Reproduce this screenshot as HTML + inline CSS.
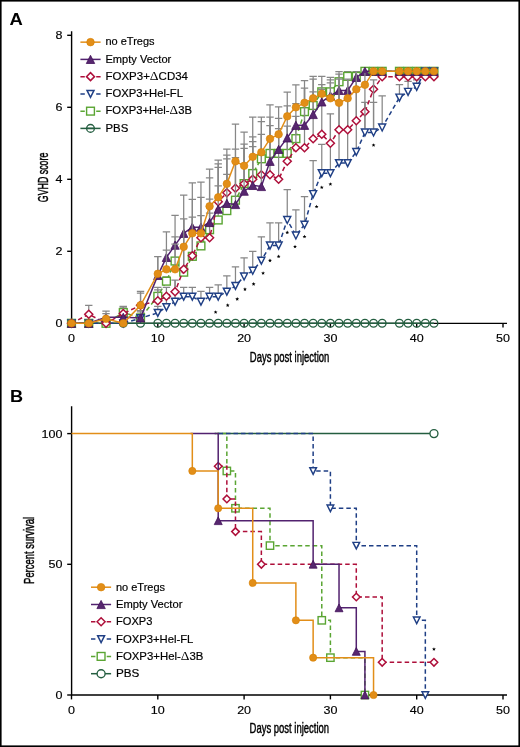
<!DOCTYPE html>
<html><head><meta charset="utf-8"><style>
html,body{margin:0;padding:0;background:#fff;}
svg{display:block;will-change:transform;}
</style></head><body>
<svg width="520" height="747" viewBox="0 0 520 747">
<rect x="0" y="0" width="520" height="747" fill="#fff"/>
<rect x="0.8" y="0.8" width="518.4" height="745.4" fill="none" stroke="#000" stroke-width="1.6"/>
<text transform="translate(16.15 24.7) scale(1.12 1)" text-anchor="middle" font-family="Liberation Sans, sans-serif" font-weight="bold" font-size="16.5" fill="#000">A</text>
<text transform="translate(16.6 401.8) scale(1.1 1)" text-anchor="middle" font-family="Liberation Sans, sans-serif" font-weight="bold" font-size="16.5" fill="#000">B</text>
<g stroke="#000" stroke-width="1.4" fill="none">
<path d="M71.6 31.2V323.4M71.6 323.4H507"/>
<path d="M67.2 323.3H71.6"/>
<path d="M67.2 251.3H71.6"/>
<path d="M67.2 179.3H71.6"/>
<path d="M67.2 107.3H71.6"/>
<path d="M67.2 35.3H71.6"/>
<path d="M71.5 323.4V327.6"/>
<path d="M157.8 323.4V327.6"/>
<path d="M244.1 323.4V327.6"/>
<path d="M330.4 323.4V327.6"/>
<path d="M416.7 323.4V327.6"/>
<path d="M503 323.4V327.6"/>
</g>
<g font-family="Liberation Sans, sans-serif" font-size="11" fill="#000" stroke="#000" stroke-width="0.15" text-anchor="end">
<text transform="translate(62.5 327.2) scale(1.14 1)">0</text>
<text transform="translate(62.5 255.2) scale(1.14 1)">2</text>
<text transform="translate(62.5 183.2) scale(1.14 1)">4</text>
<text transform="translate(62.5 111.2) scale(1.14 1)">6</text>
<text transform="translate(62.5 39.2) scale(1.14 1)">8</text>
</g>
<g font-family="Liberation Sans, sans-serif" font-size="11" fill="#000" stroke="#000" stroke-width="0.15" text-anchor="middle">
<text transform="translate(71.5 342) scale(1.14 1)">0</text>
<text transform="translate(157.8 342) scale(1.14 1)">10</text>
<text transform="translate(244.1 342) scale(1.14 1)">20</text>
<text transform="translate(330.4 342) scale(1.14 1)">30</text>
<text transform="translate(416.7 342) scale(1.14 1)">40</text>
<text transform="translate(503 342) scale(1.14 1)">50</text>
</g>
<text x="249.8" y="361.8" font-family="Liberation Sans, sans-serif" font-size="14.4" textLength="79.5" lengthAdjust="spacingAndGlyphs" fill="#000" stroke="#000" stroke-width="0.45">Days post injection</text>
<text transform="translate(48.3 202.2) rotate(-90)" x="0" y="0" font-family="Liberation Sans, sans-serif" font-size="14.8" textLength="49.5" lengthAdjust="spacingAndGlyphs" fill="#000" stroke="#000" stroke-width="0.45">GVHD score</text>
<polyline points="71.5,323.3 88.76,323.3 106.02,323.3 123.28,323.3 140.54,323.3 157.8,323.3 166.43,323.3 175.06,323.3 183.69,323.3 192.32,323.3 200.95,323.3 209.58,323.3 218.21,323.3 226.84,323.3 235.47,323.3 244.1,323.3 252.73,323.3 261.36,323.3 269.99,323.3 278.62,323.3 287.25,323.3 295.88,323.3 304.51,323.3 313.14,323.3 321.77,323.3 330.4,323.3 339.03,323.3 347.66,323.3 356.29,323.3 364.92,323.3 373.55,323.3 382.18,323.3 399.44,323.3 408.07,323.3 416.7,323.3 425.33,323.3 433.96,323.3" fill="none" stroke="#245E40" stroke-width="1.5"/>
<circle cx="71.5" cy="323.3" r="3.85" fill="none" stroke="#245E40" stroke-width="1.35"/>
<circle cx="88.76" cy="323.3" r="3.85" fill="none" stroke="#245E40" stroke-width="1.35"/>
<circle cx="106.02" cy="323.3" r="3.85" fill="none" stroke="#245E40" stroke-width="1.35"/>
<circle cx="123.28" cy="323.3" r="3.85" fill="none" stroke="#245E40" stroke-width="1.35"/>
<circle cx="140.54" cy="323.3" r="3.85" fill="none" stroke="#245E40" stroke-width="1.35"/>
<circle cx="157.8" cy="323.3" r="3.85" fill="none" stroke="#245E40" stroke-width="1.35"/>
<circle cx="166.43" cy="323.3" r="3.85" fill="none" stroke="#245E40" stroke-width="1.35"/>
<circle cx="175.06" cy="323.3" r="3.85" fill="none" stroke="#245E40" stroke-width="1.35"/>
<circle cx="183.69" cy="323.3" r="3.85" fill="none" stroke="#245E40" stroke-width="1.35"/>
<circle cx="192.32" cy="323.3" r="3.85" fill="none" stroke="#245E40" stroke-width="1.35"/>
<circle cx="200.95" cy="323.3" r="3.85" fill="none" stroke="#245E40" stroke-width="1.35"/>
<circle cx="209.58" cy="323.3" r="3.85" fill="none" stroke="#245E40" stroke-width="1.35"/>
<circle cx="218.21" cy="323.3" r="3.85" fill="none" stroke="#245E40" stroke-width="1.35"/>
<circle cx="226.84" cy="323.3" r="3.85" fill="none" stroke="#245E40" stroke-width="1.35"/>
<circle cx="235.47" cy="323.3" r="3.85" fill="none" stroke="#245E40" stroke-width="1.35"/>
<circle cx="244.1" cy="323.3" r="3.85" fill="none" stroke="#245E40" stroke-width="1.35"/>
<circle cx="252.73" cy="323.3" r="3.85" fill="none" stroke="#245E40" stroke-width="1.35"/>
<circle cx="261.36" cy="323.3" r="3.85" fill="none" stroke="#245E40" stroke-width="1.35"/>
<circle cx="269.99" cy="323.3" r="3.85" fill="none" stroke="#245E40" stroke-width="1.35"/>
<circle cx="278.62" cy="323.3" r="3.85" fill="none" stroke="#245E40" stroke-width="1.35"/>
<circle cx="287.25" cy="323.3" r="3.85" fill="none" stroke="#245E40" stroke-width="1.35"/>
<circle cx="295.88" cy="323.3" r="3.85" fill="none" stroke="#245E40" stroke-width="1.35"/>
<circle cx="304.51" cy="323.3" r="3.85" fill="none" stroke="#245E40" stroke-width="1.35"/>
<circle cx="313.14" cy="323.3" r="3.85" fill="none" stroke="#245E40" stroke-width="1.35"/>
<circle cx="321.77" cy="323.3" r="3.85" fill="none" stroke="#245E40" stroke-width="1.35"/>
<circle cx="330.4" cy="323.3" r="3.85" fill="none" stroke="#245E40" stroke-width="1.35"/>
<circle cx="339.03" cy="323.3" r="3.85" fill="none" stroke="#245E40" stroke-width="1.35"/>
<circle cx="347.66" cy="323.3" r="3.85" fill="none" stroke="#245E40" stroke-width="1.35"/>
<circle cx="356.29" cy="323.3" r="3.85" fill="none" stroke="#245E40" stroke-width="1.35"/>
<circle cx="364.92" cy="323.3" r="3.85" fill="none" stroke="#245E40" stroke-width="1.35"/>
<circle cx="373.55" cy="323.3" r="3.85" fill="none" stroke="#245E40" stroke-width="1.35"/>
<circle cx="382.18" cy="323.3" r="3.85" fill="none" stroke="#245E40" stroke-width="1.35"/>
<circle cx="399.44" cy="323.3" r="3.85" fill="none" stroke="#245E40" stroke-width="1.35"/>
<circle cx="408.07" cy="323.3" r="3.85" fill="none" stroke="#245E40" stroke-width="1.35"/>
<circle cx="416.7" cy="323.3" r="3.85" fill="none" stroke="#245E40" stroke-width="1.35"/>
<circle cx="425.33" cy="323.3" r="3.85" fill="none" stroke="#245E40" stroke-width="1.35"/>
<circle cx="433.96" cy="323.3" r="3.85" fill="none" stroke="#245E40" stroke-width="1.35"/>
<g stroke="#878787" stroke-width="1.25" fill="none">
<path d="M123.28 312.5V306.38 M119.58 306.38H126.98"/>
<path d="M140.54 317.9V311.78 M136.84 311.78H144.24"/>
<path d="M157.8 296.3V287.3 M154.1 287.3H161.5"/>
<path d="M166.43 281.18V276.86 M162.73 276.86H170.13"/>
<path d="M175.06 261.02V236.9 M171.36 236.9H178.76"/>
<path d="M183.69 272.18V218.9"/>
<path d="M192.32 256.34V217.1"/>
<path d="M200.95 245.9V215.66"/>
<path d="M209.58 229.7V199.1 M205.88 199.1H213.28"/>
<path d="M218.21 219.98V185.78 M214.51 185.78H221.91"/>
<path d="M226.84 210.62V174.26 M223.14 174.26H230.54"/>
<path d="M235.47 200.18V157.7 M231.77 157.7H239.17"/>
<path d="M244.1 183.62V144.02 M240.4 144.02H247.8"/>
<path d="M252.73 173.54V136.82 M249.03 136.82H256.43"/>
<path d="M261.36 158.78V121.7 M257.66 121.7H265.06"/>
<path d="M269.99 153.38V117.02 M266.29 117.02H273.69"/>
<path d="M278.62 153.38V128.54 M274.92 128.54H282.32"/>
<path d="M287.25 153.38V126.02 M283.55 126.02H290.95"/>
<path d="M295.88 138.62V116.3 M292.18 116.3H299.58"/>
<path d="M304.51 111.62V88.22 M300.81 88.22H308.21"/>
<path d="M313.14 105.5V79.22 M309.44 79.22H316.84"/>
<path d="M321.77 91.82V76.34 M318.07 76.34H325.47"/>
<path d="M330.4 91.82V77.42 M326.7 77.42H334.1"/>
<path d="M339.03 81.74V71.66 M335.33 71.66H342.73"/>
<path d="M347.66 76.34V71.66 M343.96 71.66H351.36"/>
<path d="M356.29 76.34V71.66 M352.59 71.66H359.99"/>
</g>
<polyline points="71.5,323.3 88.76,323.3 106.02,323.3 123.28,312.5 140.54,317.9 157.8,296.3 166.43,281.18 175.06,261.02 183.69,272.18 192.32,256.34 200.95,245.9 209.58,229.7 218.21,219.98 226.84,210.62 235.47,200.18 244.1,183.62 252.73,173.54 261.36,158.78 269.99,153.38 278.62,153.38 287.25,153.38 295.88,138.62 304.51,111.62 313.14,105.5 321.77,91.82 330.4,91.82 339.03,81.74 347.66,76.34 356.29,76.34 364.92,71.3 373.55,71.3 382.18,71.3 399.44,71.3 408.07,71.3 416.7,71.3 425.33,71.3 433.96,71.3" fill="none" stroke="#5AA533" stroke-width="1.5" stroke-dasharray="4.5,3"/>
<rect x="67.6" y="319.4" width="7.8" height="7.8" fill="#fff" stroke="#5AA533" stroke-width="1.4"/>
<rect x="84.86" y="319.4" width="7.8" height="7.8" fill="#fff" stroke="#5AA533" stroke-width="1.4"/>
<rect x="102.12" y="319.4" width="7.8" height="7.8" fill="#fff" stroke="#5AA533" stroke-width="1.4"/>
<rect x="119.38" y="308.6" width="7.8" height="7.8" fill="#fff" stroke="#5AA533" stroke-width="1.4"/>
<rect x="136.64" y="314" width="7.8" height="7.8" fill="#fff" stroke="#5AA533" stroke-width="1.4"/>
<rect x="153.9" y="292.4" width="7.8" height="7.8" fill="#fff" stroke="#5AA533" stroke-width="1.4"/>
<rect x="162.53" y="277.28" width="7.8" height="7.8" fill="#fff" stroke="#5AA533" stroke-width="1.4"/>
<rect x="171.16" y="257.12" width="7.8" height="7.8" fill="#fff" stroke="#5AA533" stroke-width="1.4"/>
<rect x="179.79" y="268.28" width="7.8" height="7.8" fill="#fff" stroke="#5AA533" stroke-width="1.4"/>
<rect x="188.42" y="252.44" width="7.8" height="7.8" fill="#fff" stroke="#5AA533" stroke-width="1.4"/>
<rect x="197.05" y="242" width="7.8" height="7.8" fill="#fff" stroke="#5AA533" stroke-width="1.4"/>
<rect x="205.68" y="225.8" width="7.8" height="7.8" fill="#fff" stroke="#5AA533" stroke-width="1.4"/>
<rect x="214.31" y="216.08" width="7.8" height="7.8" fill="#fff" stroke="#5AA533" stroke-width="1.4"/>
<rect x="222.94" y="206.72" width="7.8" height="7.8" fill="#fff" stroke="#5AA533" stroke-width="1.4"/>
<rect x="231.57" y="196.28" width="7.8" height="7.8" fill="#fff" stroke="#5AA533" stroke-width="1.4"/>
<rect x="240.2" y="179.72" width="7.8" height="7.8" fill="#fff" stroke="#5AA533" stroke-width="1.4"/>
<rect x="248.83" y="169.64" width="7.8" height="7.8" fill="#fff" stroke="#5AA533" stroke-width="1.4"/>
<rect x="257.46" y="154.88" width="7.8" height="7.8" fill="#fff" stroke="#5AA533" stroke-width="1.4"/>
<rect x="266.09" y="149.48" width="7.8" height="7.8" fill="#fff" stroke="#5AA533" stroke-width="1.4"/>
<rect x="274.72" y="149.48" width="7.8" height="7.8" fill="#fff" stroke="#5AA533" stroke-width="1.4"/>
<rect x="283.35" y="149.48" width="7.8" height="7.8" fill="#fff" stroke="#5AA533" stroke-width="1.4"/>
<rect x="291.98" y="134.72" width="7.8" height="7.8" fill="#fff" stroke="#5AA533" stroke-width="1.4"/>
<rect x="300.61" y="107.72" width="7.8" height="7.8" fill="#fff" stroke="#5AA533" stroke-width="1.4"/>
<rect x="309.24" y="101.6" width="7.8" height="7.8" fill="#fff" stroke="#5AA533" stroke-width="1.4"/>
<rect x="317.87" y="87.92" width="7.8" height="7.8" fill="#fff" stroke="#5AA533" stroke-width="1.4"/>
<rect x="326.5" y="87.92" width="7.8" height="7.8" fill="#fff" stroke="#5AA533" stroke-width="1.4"/>
<rect x="335.13" y="77.84" width="7.8" height="7.8" fill="#fff" stroke="#5AA533" stroke-width="1.4"/>
<rect x="343.76" y="72.44" width="7.8" height="7.8" fill="#fff" stroke="#5AA533" stroke-width="1.4"/>
<rect x="352.39" y="72.44" width="7.8" height="7.8" fill="#fff" stroke="#5AA533" stroke-width="1.4"/>
<rect x="361.02" y="67.4" width="7.8" height="7.8" fill="#fff" stroke="#5AA533" stroke-width="1.4"/>
<rect x="369.65" y="67.4" width="7.8" height="7.8" fill="#fff" stroke="#5AA533" stroke-width="1.4"/>
<rect x="378.28" y="67.4" width="7.8" height="7.8" fill="#fff" stroke="#5AA533" stroke-width="1.4"/>
<rect x="395.54" y="67.4" width="7.8" height="7.8" fill="#fff" stroke="#5AA533" stroke-width="1.4"/>
<rect x="404.17" y="67.4" width="7.8" height="7.8" fill="#fff" stroke="#5AA533" stroke-width="1.4"/>
<rect x="412.8" y="67.4" width="7.8" height="7.8" fill="#fff" stroke="#5AA533" stroke-width="1.4"/>
<rect x="421.43" y="67.4" width="7.8" height="7.8" fill="#fff" stroke="#5AA533" stroke-width="1.4"/>
<rect x="430.06" y="67.4" width="7.8" height="7.8" fill="#fff" stroke="#5AA533" stroke-width="1.4"/>
<g stroke="#878787" stroke-width="1.25" fill="none">
<path d="M157.8 312.86V306.38 M154.1 306.38H161.5"/>
<path d="M166.43 307.1V298.46 M162.73 298.46H170.13"/>
<path d="M175.06 301.7V280.1"/>
<path d="M183.69 296.66V287.3 M179.99 287.3H187.39"/>
<path d="M192.32 296.66V287.3 M188.62 287.3H196.02"/>
<path d="M200.95 301.7V291.26 M197.25 291.26H204.65"/>
<path d="M209.58 296.66V287.3 M205.88 287.3H213.28"/>
<path d="M218.21 296.66V284.78 M214.51 284.78H221.91"/>
<path d="M226.84 291.62V275.78 M223.14 275.78H230.54"/>
<path d="M235.47 285.86V266.78 M231.77 266.78H239.17"/>
<path d="M244.1 276.5V257.78 M240.4 257.78H247.8"/>
<path d="M252.73 270.74V251.3 M249.03 251.3H256.43"/>
<path d="M261.36 260.66V236.9 M257.66 236.9H265.06"/>
<path d="M269.99 245.54V222.86 M266.29 222.86H273.69"/>
<path d="M278.62 245.54V222.86 M274.92 222.86H282.32"/>
<path d="M287.25 219.98V189.74 M283.55 189.74H290.95"/>
<path d="M295.88 235.46V209.9 M292.18 209.9H299.58"/>
<path d="M304.51 224.66V196.58 M300.81 196.58H308.21"/>
<path d="M313.14 194.06V160.58 M309.44 160.58H316.84"/>
<path d="M321.77 173.18V144.38 M318.07 144.38H325.47"/>
<path d="M330.4 173.18V113.78"/>
<path d="M339.03 163.1V79.22"/>
<path d="M347.66 163.1V79.22"/>
<path d="M356.29 151.94V71.66"/>
<path d="M364.92 132.5V102.26 M361.22 102.26H368.62"/>
<path d="M373.55 132.5V102.26 M369.85 102.26H377.25"/>
<path d="M382.18 127.46V95.78 M378.48 95.78H385.88"/>
<path d="M399.44 97.58V84.62 M395.74 84.62H403.14"/>
<path d="M408.07 91.82V81.38 M404.37 81.38H411.77"/>
<path d="M416.7 86.78V79.94 M413 79.94H420.4"/>
</g>
<polyline points="71.5,323.3 88.76,323.3 106.02,323.3 123.28,323.3 140.54,318.15 157.8,312.86 166.43,307.1 175.06,301.7 183.69,296.66 192.32,296.66 200.95,301.7 209.58,296.66 218.21,296.66 226.84,291.62 235.47,285.86 244.1,276.5 252.73,270.74 261.36,260.66 269.99,245.54 278.62,245.54 287.25,219.98 295.88,235.46 304.51,224.66 313.14,194.06 321.77,173.18 330.4,173.18 339.03,163.1 347.66,163.1 356.29,151.94 364.92,132.5 373.55,132.5 382.18,127.46 399.44,97.58 408.07,91.82 416.7,86.78 425.33,71.3 433.96,71.3" fill="none" stroke="#1F3F85" stroke-width="1.5" stroke-dasharray="4.5,3"/>
<path d="M68 319.85L75 319.85L71.5 326.8Z" fill="#fff" stroke="#1F3F85" stroke-width="1.45" stroke-linejoin="miter"/>
<path d="M85.26 319.85L92.26 319.85L88.76 326.8Z" fill="#fff" stroke="#1F3F85" stroke-width="1.45" stroke-linejoin="miter"/>
<path d="M102.52 319.85L109.52 319.85L106.02 326.8Z" fill="#fff" stroke="#1F3F85" stroke-width="1.45" stroke-linejoin="miter"/>
<path d="M119.78 319.85L126.78 319.85L123.28 326.8Z" fill="#fff" stroke="#1F3F85" stroke-width="1.45" stroke-linejoin="miter"/>
<path d="M137.04 314.7L144.04 314.7L140.54 321.65Z" fill="#fff" stroke="#1F3F85" stroke-width="1.45" stroke-linejoin="miter"/>
<path d="M154.3 309.41L161.3 309.41L157.8 316.36Z" fill="#fff" stroke="#1F3F85" stroke-width="1.45" stroke-linejoin="miter"/>
<path d="M162.93 303.65L169.93 303.65L166.43 310.6Z" fill="#fff" stroke="#1F3F85" stroke-width="1.45" stroke-linejoin="miter"/>
<path d="M171.56 298.25L178.56 298.25L175.06 305.2Z" fill="#fff" stroke="#1F3F85" stroke-width="1.45" stroke-linejoin="miter"/>
<path d="M180.19 293.21L187.19 293.21L183.69 300.16Z" fill="#fff" stroke="#1F3F85" stroke-width="1.45" stroke-linejoin="miter"/>
<path d="M188.82 293.21L195.82 293.21L192.32 300.16Z" fill="#fff" stroke="#1F3F85" stroke-width="1.45" stroke-linejoin="miter"/>
<path d="M197.45 298.25L204.45 298.25L200.95 305.2Z" fill="#fff" stroke="#1F3F85" stroke-width="1.45" stroke-linejoin="miter"/>
<path d="M206.08 293.21L213.08 293.21L209.58 300.16Z" fill="#fff" stroke="#1F3F85" stroke-width="1.45" stroke-linejoin="miter"/>
<path d="M214.71 293.21L221.71 293.21L218.21 300.16Z" fill="#fff" stroke="#1F3F85" stroke-width="1.45" stroke-linejoin="miter"/>
<path d="M223.34 288.17L230.34 288.17L226.84 295.12Z" fill="#fff" stroke="#1F3F85" stroke-width="1.45" stroke-linejoin="miter"/>
<path d="M231.97 282.41L238.97 282.41L235.47 289.36Z" fill="#fff" stroke="#1F3F85" stroke-width="1.45" stroke-linejoin="miter"/>
<path d="M240.6 273.05L247.6 273.05L244.1 280Z" fill="#fff" stroke="#1F3F85" stroke-width="1.45" stroke-linejoin="miter"/>
<path d="M249.23 267.29L256.23 267.29L252.73 274.24Z" fill="#fff" stroke="#1F3F85" stroke-width="1.45" stroke-linejoin="miter"/>
<path d="M257.86 257.21L264.86 257.21L261.36 264.16Z" fill="#fff" stroke="#1F3F85" stroke-width="1.45" stroke-linejoin="miter"/>
<path d="M266.49 242.09L273.49 242.09L269.99 249.04Z" fill="#fff" stroke="#1F3F85" stroke-width="1.45" stroke-linejoin="miter"/>
<path d="M275.12 242.09L282.12 242.09L278.62 249.04Z" fill="#fff" stroke="#1F3F85" stroke-width="1.45" stroke-linejoin="miter"/>
<path d="M283.75 216.53L290.75 216.53L287.25 223.48Z" fill="#fff" stroke="#1F3F85" stroke-width="1.45" stroke-linejoin="miter"/>
<path d="M292.38 232.01L299.38 232.01L295.88 238.96Z" fill="#fff" stroke="#1F3F85" stroke-width="1.45" stroke-linejoin="miter"/>
<path d="M301.01 221.21L308.01 221.21L304.51 228.16Z" fill="#fff" stroke="#1F3F85" stroke-width="1.45" stroke-linejoin="miter"/>
<path d="M309.64 190.61L316.64 190.61L313.14 197.56Z" fill="#fff" stroke="#1F3F85" stroke-width="1.45" stroke-linejoin="miter"/>
<path d="M318.27 169.73L325.27 169.73L321.77 176.68Z" fill="#fff" stroke="#1F3F85" stroke-width="1.45" stroke-linejoin="miter"/>
<path d="M326.9 169.73L333.9 169.73L330.4 176.68Z" fill="#fff" stroke="#1F3F85" stroke-width="1.45" stroke-linejoin="miter"/>
<path d="M335.53 159.65L342.53 159.65L339.03 166.6Z" fill="#fff" stroke="#1F3F85" stroke-width="1.45" stroke-linejoin="miter"/>
<path d="M344.16 159.65L351.16 159.65L347.66 166.6Z" fill="#fff" stroke="#1F3F85" stroke-width="1.45" stroke-linejoin="miter"/>
<path d="M352.79 148.49L359.79 148.49L356.29 155.44Z" fill="#fff" stroke="#1F3F85" stroke-width="1.45" stroke-linejoin="miter"/>
<path d="M361.42 129.05L368.42 129.05L364.92 136Z" fill="#fff" stroke="#1F3F85" stroke-width="1.45" stroke-linejoin="miter"/>
<path d="M370.05 129.05L377.05 129.05L373.55 136Z" fill="#fff" stroke="#1F3F85" stroke-width="1.45" stroke-linejoin="miter"/>
<path d="M378.68 124.01L385.68 124.01L382.18 130.96Z" fill="#fff" stroke="#1F3F85" stroke-width="1.45" stroke-linejoin="miter"/>
<path d="M395.94 94.13L402.94 94.13L399.44 101.08Z" fill="#fff" stroke="#1F3F85" stroke-width="1.45" stroke-linejoin="miter"/>
<path d="M404.57 88.37L411.57 88.37L408.07 95.32Z" fill="#fff" stroke="#1F3F85" stroke-width="1.45" stroke-linejoin="miter"/>
<path d="M413.2 83.33L420.2 83.33L416.7 90.28Z" fill="#fff" stroke="#1F3F85" stroke-width="1.45" stroke-linejoin="miter"/>
<path d="M421.83 67.85L428.83 67.85L425.33 74.8Z" fill="#fff" stroke="#1F3F85" stroke-width="1.45" stroke-linejoin="miter"/>
<path d="M430.46 67.85L437.46 67.85L433.96 74.8Z" fill="#fff" stroke="#1F3F85" stroke-width="1.45" stroke-linejoin="miter"/>
<g stroke="#878787" stroke-width="1.25" fill="none">
<path d="M88.76 314.3V305.3 M85.06 305.3H92.46"/>
<path d="M123.28 313.58V307.1 M119.58 307.1H126.98"/>
<path d="M140.54 305.3V291.26 M136.84 291.26H144.24"/>
<path d="M157.8 300.8V289.82 M154.1 289.82H161.5"/>
<path d="M166.43 296.3V287.3 M162.73 287.3H170.13"/>
<path d="M175.06 291.8V280.1 M171.36 280.1H178.76"/>
<path d="M183.69 269.3V218.9"/>
<path d="M192.32 255.8V217.1 M188.62 217.1H196.02"/>
<path d="M200.95 237.8V215.66 M197.25 215.66H204.65"/>
<path d="M209.58 237.8V213.14 M205.88 213.14H213.28"/>
<path d="M218.21 201.8V163.82 M214.51 163.82H221.91"/>
<path d="M226.84 192.8V155.18 M223.14 155.18H230.54"/>
<path d="M235.47 188.3V149.06 M231.77 149.06H239.17"/>
<path d="M244.1 183.8V148.34 M240.4 148.34H247.8"/>
<path d="M252.73 179.3V141.5 M249.03 141.5H256.43"/>
<path d="M261.36 174.8V134.3 M257.66 134.3H265.06"/>
<path d="M269.99 174.8V125.66"/>
<path d="M278.62 179.3V128.54"/>
<path d="M287.25 161.3V126.02"/>
<path d="M295.88 147.8V116.3"/>
<path d="M304.51 147.8V88.22"/>
<path d="M313.14 138.8V91.82"/>
<path d="M321.77 134.3V89.3"/>
<path d="M330.4 143.3V113.78 M326.7 113.78H334.1"/>
<path d="M339.03 129.8V79.22"/>
<path d="M347.66 129.8V79.22"/>
<path d="M356.29 120.8V71.66"/>
<path d="M364.92 111.8V85.7"/>
<path d="M373.55 89.3V79.94 M369.85 79.94H377.25"/>
</g>
<polyline points="71.5,323.3 88.76,314.3 106.02,323.3 123.28,313.58 140.54,305.3 157.8,300.8 166.43,296.3 175.06,291.8 183.69,269.3 192.32,255.8 200.95,237.8 209.58,237.8 218.21,201.8 226.84,192.8 235.47,188.3 244.1,183.8 252.73,179.3 261.36,174.8 269.99,174.8 278.62,179.3 287.25,161.3 295.88,147.8 304.51,147.8 313.14,138.8 321.77,134.3 330.4,143.3 339.03,129.8 347.66,129.8 356.29,120.8 364.92,111.8 373.55,89.3 382.18,76.7 399.44,76.7 408.07,76.7 416.7,76.7 425.33,76.7 433.96,76.7" fill="none" stroke="#AE0F3A" stroke-width="1.5" stroke-dasharray="4.5,3"/>
<path d="M71.5 319.3L75.5 323.3L71.5 327.3L67.5 323.3Z" fill="#fff" stroke="#AE0F3A" stroke-width="1.5"/>
<path d="M88.76 310.3L92.76 314.3L88.76 318.3L84.76 314.3Z" fill="#fff" stroke="#AE0F3A" stroke-width="1.5"/>
<path d="M106.02 319.3L110.02 323.3L106.02 327.3L102.02 323.3Z" fill="#fff" stroke="#AE0F3A" stroke-width="1.5"/>
<path d="M123.28 309.58L127.28 313.58L123.28 317.58L119.28 313.58Z" fill="#fff" stroke="#AE0F3A" stroke-width="1.5"/>
<path d="M140.54 301.3L144.54 305.3L140.54 309.3L136.54 305.3Z" fill="#fff" stroke="#AE0F3A" stroke-width="1.5"/>
<path d="M157.8 296.8L161.8 300.8L157.8 304.8L153.8 300.8Z" fill="#fff" stroke="#AE0F3A" stroke-width="1.5"/>
<path d="M166.43 292.3L170.43 296.3L166.43 300.3L162.43 296.3Z" fill="#fff" stroke="#AE0F3A" stroke-width="1.5"/>
<path d="M175.06 287.8L179.06 291.8L175.06 295.8L171.06 291.8Z" fill="#fff" stroke="#AE0F3A" stroke-width="1.5"/>
<path d="M183.69 265.3L187.69 269.3L183.69 273.3L179.69 269.3Z" fill="#fff" stroke="#AE0F3A" stroke-width="1.5"/>
<path d="M192.32 251.8L196.32 255.8L192.32 259.8L188.32 255.8Z" fill="#fff" stroke="#AE0F3A" stroke-width="1.5"/>
<path d="M200.95 233.8L204.95 237.8L200.95 241.8L196.95 237.8Z" fill="#fff" stroke="#AE0F3A" stroke-width="1.5"/>
<path d="M209.58 233.8L213.58 237.8L209.58 241.8L205.58 237.8Z" fill="#fff" stroke="#AE0F3A" stroke-width="1.5"/>
<path d="M218.21 197.8L222.21 201.8L218.21 205.8L214.21 201.8Z" fill="#fff" stroke="#AE0F3A" stroke-width="1.5"/>
<path d="M226.84 188.8L230.84 192.8L226.84 196.8L222.84 192.8Z" fill="#fff" stroke="#AE0F3A" stroke-width="1.5"/>
<path d="M235.47 184.3L239.47 188.3L235.47 192.3L231.47 188.3Z" fill="#fff" stroke="#AE0F3A" stroke-width="1.5"/>
<path d="M244.1 179.8L248.1 183.8L244.1 187.8L240.1 183.8Z" fill="#fff" stroke="#AE0F3A" stroke-width="1.5"/>
<path d="M252.73 175.3L256.73 179.3L252.73 183.3L248.73 179.3Z" fill="#fff" stroke="#AE0F3A" stroke-width="1.5"/>
<path d="M261.36 170.8L265.36 174.8L261.36 178.8L257.36 174.8Z" fill="#fff" stroke="#AE0F3A" stroke-width="1.5"/>
<path d="M269.99 170.8L273.99 174.8L269.99 178.8L265.99 174.8Z" fill="#fff" stroke="#AE0F3A" stroke-width="1.5"/>
<path d="M278.62 175.3L282.62 179.3L278.62 183.3L274.62 179.3Z" fill="#fff" stroke="#AE0F3A" stroke-width="1.5"/>
<path d="M287.25 157.3L291.25 161.3L287.25 165.3L283.25 161.3Z" fill="#fff" stroke="#AE0F3A" stroke-width="1.5"/>
<path d="M295.88 143.8L299.88 147.8L295.88 151.8L291.88 147.8Z" fill="#fff" stroke="#AE0F3A" stroke-width="1.5"/>
<path d="M304.51 143.8L308.51 147.8L304.51 151.8L300.51 147.8Z" fill="#fff" stroke="#AE0F3A" stroke-width="1.5"/>
<path d="M313.14 134.8L317.14 138.8L313.14 142.8L309.14 138.8Z" fill="#fff" stroke="#AE0F3A" stroke-width="1.5"/>
<path d="M321.77 130.3L325.77 134.3L321.77 138.3L317.77 134.3Z" fill="#fff" stroke="#AE0F3A" stroke-width="1.5"/>
<path d="M330.4 139.3L334.4 143.3L330.4 147.3L326.4 143.3Z" fill="#fff" stroke="#AE0F3A" stroke-width="1.5"/>
<path d="M339.03 125.8L343.03 129.8L339.03 133.8L335.03 129.8Z" fill="#fff" stroke="#AE0F3A" stroke-width="1.5"/>
<path d="M347.66 125.8L351.66 129.8L347.66 133.8L343.66 129.8Z" fill="#fff" stroke="#AE0F3A" stroke-width="1.5"/>
<path d="M356.29 116.8L360.29 120.8L356.29 124.8L352.29 120.8Z" fill="#fff" stroke="#AE0F3A" stroke-width="1.5"/>
<path d="M364.92 107.8L368.92 111.8L364.92 115.8L360.92 111.8Z" fill="#fff" stroke="#AE0F3A" stroke-width="1.5"/>
<path d="M373.55 85.3L377.55 89.3L373.55 93.3L369.55 89.3Z" fill="#fff" stroke="#AE0F3A" stroke-width="1.5"/>
<path d="M382.18 72.7L386.18 76.7L382.18 80.7L378.18 76.7Z" fill="#fff" stroke="#AE0F3A" stroke-width="1.5"/>
<path d="M399.44 72.7L403.44 76.7L399.44 80.7L395.44 76.7Z" fill="#fff" stroke="#AE0F3A" stroke-width="1.5"/>
<path d="M408.07 72.7L412.07 76.7L408.07 80.7L404.07 76.7Z" fill="#fff" stroke="#AE0F3A" stroke-width="1.5"/>
<path d="M416.7 72.7L420.7 76.7L416.7 80.7L412.7 76.7Z" fill="#fff" stroke="#AE0F3A" stroke-width="1.5"/>
<path d="M425.33 72.7L429.33 76.7L425.33 80.7L421.33 76.7Z" fill="#fff" stroke="#AE0F3A" stroke-width="1.5"/>
<path d="M433.96 72.7L437.96 76.7L433.96 80.7L429.96 76.7Z" fill="#fff" stroke="#AE0F3A" stroke-width="1.5"/>
<g stroke="#878787" stroke-width="1.25" fill="none">
<path d="M364.92 128.18V102.26"/>
<path d="M373.55 128.18V79.94"/>
</g>
<g stroke="#878787" stroke-width="1.25" fill="none">
<path d="M106.02 317.29V311.06 M102.32 311.06H109.72"/>
<path d="M140.54 317.9V310.7 M136.84 310.7H144.24"/>
<path d="M157.8 275.42V256.7"/>
<path d="M166.43 257.42V231.86 M162.73 231.86H170.13"/>
<path d="M175.06 245.18V215.3 M171.36 215.3H178.76"/>
<path d="M183.69 233.3V195.14 M179.99 195.14H187.39"/>
<path d="M192.32 227.18V182.9 M188.62 182.9H196.02"/>
<path d="M200.95 227.18V182.18 M197.25 182.18H204.65"/>
<path d="M209.58 222.5V177.86 M205.88 177.86H213.28"/>
<path d="M218.21 209.18V167.42 M214.51 167.42H221.91"/>
<path d="M226.84 203.42V158.78 M223.14 158.78H230.54"/>
<path d="M235.47 204.5V157.7"/>
<path d="M244.1 191.18V148.34"/>
<path d="M252.73 185.42V146.54 M249.03 146.54H256.43"/>
<path d="M261.36 186.5V134.3"/>
<path d="M269.99 161.3V125.66 M266.29 125.66H273.69"/>
<path d="M278.62 149.42V118.46 M274.92 118.46H282.32"/>
<path d="M287.25 137.9V105.86 M283.55 105.86H290.95"/>
<path d="M295.88 125.3V103.7 M292.18 103.7H299.58"/>
<path d="M304.51 125.3V88.22"/>
<path d="M313.14 114.5V91.82 M309.44 91.82H316.84"/>
<path d="M321.77 101.9V89.3 M318.07 89.3H325.47"/>
<path d="M330.4 95.78V79.94 M326.7 79.94H334.1"/>
<path d="M339.03 90.38V74.18 M335.33 74.18H342.73"/>
<path d="M347.66 90.38V79.22 M343.96 79.22H351.36"/>
<path d="M356.29 77.42V71.66"/>
</g>
<polyline points="71.5,323.3 88.76,323.3 106.02,317.29 123.28,317.29 140.54,317.9 157.8,275.42 166.43,257.42 175.06,245.18 183.69,233.3 192.32,227.18 200.95,227.18 209.58,222.5 218.21,209.18 226.84,203.42 235.47,204.5 244.1,191.18 252.73,185.42 261.36,186.5 269.99,161.3 278.62,149.42 287.25,137.9 295.88,125.3 304.51,125.3 313.14,114.5 321.77,101.9 330.4,95.78 339.03,90.38 347.66,90.38 356.29,77.42 364.92,71.3 373.55,71.3 382.18,71.3 399.44,71.3 408.07,71.3 416.7,71.3 425.33,71.3 433.96,71.3" fill="none" stroke="#52226F" stroke-width="1.5"/>
<path d="M71.5 319.2L67.3 327.4L75.7 327.4Z" fill="#57276F" stroke="#42125A" stroke-width="0.8" stroke-linejoin="miter"/>
<path d="M88.76 319.2L84.56 327.4L92.96 327.4Z" fill="#57276F" stroke="#42125A" stroke-width="0.8" stroke-linejoin="miter"/>
<path d="M106.02 313.19L101.82 321.39L110.22 321.39Z" fill="#57276F" stroke="#42125A" stroke-width="0.8" stroke-linejoin="miter"/>
<path d="M123.28 313.19L119.08 321.39L127.48 321.39Z" fill="#57276F" stroke="#42125A" stroke-width="0.8" stroke-linejoin="miter"/>
<path d="M140.54 313.8L136.34 322L144.74 322Z" fill="#57276F" stroke="#42125A" stroke-width="0.8" stroke-linejoin="miter"/>
<path d="M157.8 271.32L153.6 279.52L162 279.52Z" fill="#57276F" stroke="#42125A" stroke-width="0.8" stroke-linejoin="miter"/>
<path d="M166.43 253.32L162.23 261.52L170.63 261.52Z" fill="#57276F" stroke="#42125A" stroke-width="0.8" stroke-linejoin="miter"/>
<path d="M175.06 241.08L170.86 249.28L179.26 249.28Z" fill="#57276F" stroke="#42125A" stroke-width="0.8" stroke-linejoin="miter"/>
<path d="M183.69 229.2L179.49 237.4L187.89 237.4Z" fill="#57276F" stroke="#42125A" stroke-width="0.8" stroke-linejoin="miter"/>
<path d="M192.32 223.08L188.12 231.28L196.52 231.28Z" fill="#57276F" stroke="#42125A" stroke-width="0.8" stroke-linejoin="miter"/>
<path d="M200.95 223.08L196.75 231.28L205.15 231.28Z" fill="#57276F" stroke="#42125A" stroke-width="0.8" stroke-linejoin="miter"/>
<path d="M209.58 218.4L205.38 226.6L213.78 226.6Z" fill="#57276F" stroke="#42125A" stroke-width="0.8" stroke-linejoin="miter"/>
<path d="M218.21 205.08L214.01 213.28L222.41 213.28Z" fill="#57276F" stroke="#42125A" stroke-width="0.8" stroke-linejoin="miter"/>
<path d="M226.84 199.32L222.64 207.52L231.04 207.52Z" fill="#57276F" stroke="#42125A" stroke-width="0.8" stroke-linejoin="miter"/>
<path d="M235.47 200.4L231.27 208.6L239.67 208.6Z" fill="#57276F" stroke="#42125A" stroke-width="0.8" stroke-linejoin="miter"/>
<path d="M244.1 187.08L239.9 195.28L248.3 195.28Z" fill="#57276F" stroke="#42125A" stroke-width="0.8" stroke-linejoin="miter"/>
<path d="M252.73 181.32L248.53 189.52L256.93 189.52Z" fill="#57276F" stroke="#42125A" stroke-width="0.8" stroke-linejoin="miter"/>
<path d="M261.36 182.4L257.16 190.6L265.56 190.6Z" fill="#57276F" stroke="#42125A" stroke-width="0.8" stroke-linejoin="miter"/>
<path d="M269.99 157.2L265.79 165.4L274.19 165.4Z" fill="#57276F" stroke="#42125A" stroke-width="0.8" stroke-linejoin="miter"/>
<path d="M278.62 145.32L274.42 153.52L282.82 153.52Z" fill="#57276F" stroke="#42125A" stroke-width="0.8" stroke-linejoin="miter"/>
<path d="M287.25 133.8L283.05 142L291.45 142Z" fill="#57276F" stroke="#42125A" stroke-width="0.8" stroke-linejoin="miter"/>
<path d="M295.88 121.2L291.68 129.4L300.08 129.4Z" fill="#57276F" stroke="#42125A" stroke-width="0.8" stroke-linejoin="miter"/>
<path d="M304.51 121.2L300.31 129.4L308.71 129.4Z" fill="#57276F" stroke="#42125A" stroke-width="0.8" stroke-linejoin="miter"/>
<path d="M313.14 110.4L308.94 118.6L317.34 118.6Z" fill="#57276F" stroke="#42125A" stroke-width="0.8" stroke-linejoin="miter"/>
<path d="M321.77 97.8L317.57 106L325.97 106Z" fill="#57276F" stroke="#42125A" stroke-width="0.8" stroke-linejoin="miter"/>
<path d="M330.4 91.68L326.2 99.88L334.6 99.88Z" fill="#57276F" stroke="#42125A" stroke-width="0.8" stroke-linejoin="miter"/>
<path d="M339.03 86.28L334.83 94.48L343.23 94.48Z" fill="#57276F" stroke="#42125A" stroke-width="0.8" stroke-linejoin="miter"/>
<path d="M347.66 86.28L343.46 94.48L351.86 94.48Z" fill="#57276F" stroke="#42125A" stroke-width="0.8" stroke-linejoin="miter"/>
<path d="M356.29 73.32L352.09 81.52L360.49 81.52Z" fill="#57276F" stroke="#42125A" stroke-width="0.8" stroke-linejoin="miter"/>
<path d="M364.92 67.2L360.72 75.4L369.12 75.4Z" fill="#57276F" stroke="#42125A" stroke-width="0.8" stroke-linejoin="miter"/>
<path d="M373.55 67.2L369.35 75.4L377.75 75.4Z" fill="#57276F" stroke="#42125A" stroke-width="0.8" stroke-linejoin="miter"/>
<path d="M382.18 67.2L377.98 75.4L386.38 75.4Z" fill="#57276F" stroke="#42125A" stroke-width="0.8" stroke-linejoin="miter"/>
<path d="M399.44 67.2L395.24 75.4L403.64 75.4Z" fill="#57276F" stroke="#42125A" stroke-width="0.8" stroke-linejoin="miter"/>
<path d="M408.07 67.2L403.87 75.4L412.27 75.4Z" fill="#57276F" stroke="#42125A" stroke-width="0.8" stroke-linejoin="miter"/>
<path d="M416.7 67.2L412.5 75.4L420.9 75.4Z" fill="#57276F" stroke="#42125A" stroke-width="0.8" stroke-linejoin="miter"/>
<path d="M425.33 67.2L421.13 75.4L429.53 75.4Z" fill="#57276F" stroke="#42125A" stroke-width="0.8" stroke-linejoin="miter"/>
<path d="M433.96 67.2L429.76 75.4L438.16 75.4Z" fill="#57276F" stroke="#42125A" stroke-width="0.8" stroke-linejoin="miter"/>
<g stroke="#878787" stroke-width="1.25" fill="none">
<path d="M106.02 318.8V313.58 M102.32 313.58H109.72"/>
<path d="M140.54 305.3V293.06 M136.84 293.06H144.24"/>
<path d="M157.8 273.8V256.7 M154.1 256.7H161.5"/>
<path d="M166.43 269.3V250.22 M162.73 250.22H170.13"/>
<path d="M175.06 269.3V244.1 M171.36 244.1H178.76"/>
<path d="M183.69 246.8V218.9 M179.99 218.9H187.39"/>
<path d="M192.32 233.3V199.46 M188.62 199.46H196.02"/>
<path d="M200.95 233.3V197.3 M197.25 197.3H204.65"/>
<path d="M209.58 206.3V169.22 M205.88 169.22H213.28"/>
<path d="M218.21 197.3V160.22 M214.51 160.22H221.91"/>
<path d="M226.84 183.8V149.06 M223.14 149.06H230.54"/>
<path d="M235.47 161.3V124.22 M231.77 124.22H239.17"/>
<path d="M244.1 165.8V132.14 M240.4 132.14H247.8"/>
<path d="M252.73 156.8V117.02 M249.03 117.02H256.43"/>
<path d="M261.36 152.3V117.02 M257.66 117.02H265.06"/>
<path d="M269.99 138.8V104.78 M266.29 104.78H273.69"/>
<path d="M278.62 134.3V106.94 M274.92 106.94H282.32"/>
<path d="M287.25 116.3V92.18 M283.55 92.18H290.95"/>
<path d="M295.88 107.3V84.98 M292.18 84.98H299.58"/>
<path d="M304.51 102.8V80.66 M300.81 80.66H308.21"/>
<path d="M313.14 98.3V76.34 M309.44 76.34H316.84"/>
<path d="M321.77 93.8V84.62 M318.07 84.62H325.47"/>
<path d="M330.4 98.3V82.82 M326.7 82.82H334.1"/>
<path d="M339.03 102.8V79.22 M335.33 79.22H342.73"/>
<path d="M347.66 98.3V79.22"/>
<path d="M356.29 89.3V71.66"/>
<path d="M364.92 84.8V73.1"/>
</g>
<polyline points="71.5,323.3 88.76,323.3 106.02,318.8 123.28,323.3 140.54,305.3 157.8,273.8 166.43,269.3 175.06,269.3 183.69,246.8 192.32,233.3 200.95,233.3 209.58,206.3 218.21,197.3 226.84,183.8 235.47,161.3 244.1,165.8 252.73,156.8 261.36,152.3 269.99,138.8 278.62,134.3 287.25,116.3 295.88,107.3 304.51,102.8 313.14,98.3 321.77,93.8 330.4,98.3 339.03,102.8 347.66,98.3 356.29,89.3 364.92,84.8 373.55,71.3 382.18,71.3 399.44,71.3 408.07,71.3 416.7,71.3 425.33,71.3 433.96,71.3" fill="none" stroke="#E28E18" stroke-width="1.5"/>
<circle cx="71.5" cy="323.3" r="3.8" fill="#E28E18" stroke="#D68000" stroke-width="0.6"/>
<circle cx="88.76" cy="323.3" r="3.8" fill="#E28E18" stroke="#D68000" stroke-width="0.6"/>
<circle cx="106.02" cy="318.8" r="3.8" fill="#E28E18" stroke="#D68000" stroke-width="0.6"/>
<circle cx="123.28" cy="323.3" r="3.8" fill="#E28E18" stroke="#D68000" stroke-width="0.6"/>
<circle cx="140.54" cy="305.3" r="3.8" fill="#E28E18" stroke="#D68000" stroke-width="0.6"/>
<circle cx="157.8" cy="273.8" r="3.8" fill="#E28E18" stroke="#D68000" stroke-width="0.6"/>
<circle cx="166.43" cy="269.3" r="3.8" fill="#E28E18" stroke="#D68000" stroke-width="0.6"/>
<circle cx="175.06" cy="269.3" r="3.8" fill="#E28E18" stroke="#D68000" stroke-width="0.6"/>
<circle cx="183.69" cy="246.8" r="3.8" fill="#E28E18" stroke="#D68000" stroke-width="0.6"/>
<circle cx="192.32" cy="233.3" r="3.8" fill="#E28E18" stroke="#D68000" stroke-width="0.6"/>
<circle cx="200.95" cy="233.3" r="3.8" fill="#E28E18" stroke="#D68000" stroke-width="0.6"/>
<circle cx="209.58" cy="206.3" r="3.8" fill="#E28E18" stroke="#D68000" stroke-width="0.6"/>
<circle cx="218.21" cy="197.3" r="3.8" fill="#E28E18" stroke="#D68000" stroke-width="0.6"/>
<circle cx="226.84" cy="183.8" r="3.8" fill="#E28E18" stroke="#D68000" stroke-width="0.6"/>
<circle cx="235.47" cy="161.3" r="3.8" fill="#E28E18" stroke="#D68000" stroke-width="0.6"/>
<circle cx="244.1" cy="165.8" r="3.8" fill="#E28E18" stroke="#D68000" stroke-width="0.6"/>
<circle cx="252.73" cy="156.8" r="3.8" fill="#E28E18" stroke="#D68000" stroke-width="0.6"/>
<circle cx="261.36" cy="152.3" r="3.8" fill="#E28E18" stroke="#D68000" stroke-width="0.6"/>
<circle cx="269.99" cy="138.8" r="3.8" fill="#E28E18" stroke="#D68000" stroke-width="0.6"/>
<circle cx="278.62" cy="134.3" r="3.8" fill="#E28E18" stroke="#D68000" stroke-width="0.6"/>
<circle cx="287.25" cy="116.3" r="3.8" fill="#E28E18" stroke="#D68000" stroke-width="0.6"/>
<circle cx="295.88" cy="107.3" r="3.8" fill="#E28E18" stroke="#D68000" stroke-width="0.6"/>
<circle cx="304.51" cy="102.8" r="3.8" fill="#E28E18" stroke="#D68000" stroke-width="0.6"/>
<circle cx="313.14" cy="98.3" r="3.8" fill="#E28E18" stroke="#D68000" stroke-width="0.6"/>
<circle cx="321.77" cy="93.8" r="3.8" fill="#E28E18" stroke="#D68000" stroke-width="0.6"/>
<circle cx="330.4" cy="98.3" r="3.8" fill="#E28E18" stroke="#D68000" stroke-width="0.6"/>
<circle cx="339.03" cy="102.8" r="3.8" fill="#E28E18" stroke="#D68000" stroke-width="0.6"/>
<circle cx="347.66" cy="98.3" r="3.8" fill="#E28E18" stroke="#D68000" stroke-width="0.6"/>
<circle cx="356.29" cy="89.3" r="3.8" fill="#E28E18" stroke="#D68000" stroke-width="0.6"/>
<circle cx="364.92" cy="84.8" r="3.8" fill="#E28E18" stroke="#D68000" stroke-width="0.6"/>
<circle cx="373.55" cy="71.3" r="3.8" fill="#E28E18" stroke="#D68000" stroke-width="0.6"/>
<circle cx="382.18" cy="71.3" r="3.8" fill="#E28E18" stroke="#D68000" stroke-width="0.6"/>
<circle cx="399.44" cy="71.3" r="3.8" fill="#E28E18" stroke="#D68000" stroke-width="0.6"/>
<circle cx="408.07" cy="71.3" r="3.8" fill="#E28E18" stroke="#D68000" stroke-width="0.6"/>
<circle cx="416.7" cy="71.3" r="3.8" fill="#E28E18" stroke="#D68000" stroke-width="0.6"/>
<circle cx="425.33" cy="71.3" r="3.8" fill="#E28E18" stroke="#D68000" stroke-width="0.6"/>
<circle cx="433.96" cy="71.3" r="3.8" fill="#E28E18" stroke="#D68000" stroke-width="0.6"/>
<polygon points="215.62,310.2 216.15,311.47 217.52,311.58 216.48,312.48 216.8,313.82 215.62,313.1 214.45,313.82 214.77,312.48 213.72,311.58 215.09,311.47" fill="#000"/>
<polygon points="227.7,303.3 228.23,304.57 229.61,304.68 228.56,305.58 228.88,306.92 227.7,306.2 226.53,306.92 226.85,305.58 225.8,304.68 227.17,304.57" fill="#000"/>
<polygon points="237.2,297.1 237.73,298.37 239.1,298.48 238.05,299.38 238.37,300.72 237.2,300 236.02,300.72 236.34,299.38 235.29,298.48 236.67,298.37" fill="#000"/>
<polygon points="244.96,287.3 245.49,288.57 246.87,288.68 245.82,289.58 246.14,290.92 244.96,290.2 243.79,290.92 244.11,289.58 243.06,288.68 244.43,288.57" fill="#000"/>
<polygon points="253.59,282.1 254.12,283.37 255.5,283.48 254.45,284.38 254.77,285.72 253.59,285 252.42,285.72 252.74,284.38 251.69,283.48 253.06,283.37" fill="#000"/>
<polygon points="263.09,271.2 263.62,272.47 264.99,272.58 263.94,273.48 264.26,274.82 263.09,274.1 261.91,274.82 262.23,273.48 261.18,272.58 262.56,272.47" fill="#000"/>
<polygon points="269.99,258.6 270.52,259.87 271.89,259.98 270.85,260.88 271.17,262.22 269.99,261.5 268.81,262.22 269.13,260.88 268.09,259.98 269.46,259.87" fill="#000"/>
<polygon points="278.62,254.5 279.15,255.77 280.52,255.88 279.48,256.78 279.8,258.12 278.62,257.4 277.44,258.12 277.76,256.78 276.72,255.88 278.09,255.77" fill="#000"/>
<polygon points="287.25,230.5 287.78,231.77 289.15,231.88 288.11,232.78 288.43,234.12 287.25,233.4 286.07,234.12 286.39,232.78 285.35,231.88 286.72,231.77" fill="#000"/>
<polygon points="295.02,244.7 295.55,245.97 296.92,246.08 295.87,246.98 296.19,248.32 295.02,247.6 293.84,248.32 294.16,246.98 293.11,246.08 294.49,245.97" fill="#000"/>
<polygon points="304.51,234.7 305.04,235.97 306.41,236.08 305.37,236.98 305.69,238.32 304.51,237.6 303.33,238.32 303.65,236.98 302.61,236.08 303.98,235.97" fill="#000"/>
<polygon points="316.59,204.7 317.12,205.97 318.49,206.08 317.45,206.98 317.77,208.32 316.59,207.6 315.42,208.32 315.74,206.98 314.69,206.08 316.06,205.97" fill="#000"/>
<polygon points="321.77,185.4 322.3,186.67 323.67,186.78 322.63,187.68 322.95,189.02 321.77,188.3 320.59,189.02 320.91,187.68 319.87,186.78 321.24,186.67" fill="#000"/>
<polygon points="330.4,182.2 330.93,183.47 332.3,183.58 331.26,184.48 331.58,185.82 330.4,185.1 329.22,185.82 329.54,184.48 328.5,183.58 329.87,183.47" fill="#000"/>
<polygon points="373.55,143.2 374.08,144.47 375.45,144.58 374.41,145.48 374.73,146.82 373.55,146.1 372.37,146.82 372.69,145.48 371.65,144.58 373.02,144.47" fill="#000"/>
<path d="M80.4 42.15H100.6" stroke="#E28E18" stroke-width="1.5"/>
<circle cx="90.5" cy="42.15" r="3.8" fill="#E28E18" stroke="#D68000" stroke-width="0.6"/>
<text x="105.5" y="45.3" font-family="Liberation Sans, sans-serif" font-size="10.6" textLength="49" lengthAdjust="spacingAndGlyphs" fill="#000" stroke="#000" stroke-width="0.18">no eTregs</text>
<path d="M80.4 59.4H100.6" stroke="#52226F" stroke-width="1.5"/>
<path d="M90.5 55.3L86.3 63.5L94.7 63.5Z" fill="#57276F" stroke="#42125A" stroke-width="0.8" stroke-linejoin="miter"/>
<text x="105.5" y="62.55" font-family="Liberation Sans, sans-serif" font-size="10.6" textLength="65.7" lengthAdjust="spacingAndGlyphs" fill="#000" stroke="#000" stroke-width="0.18">Empty Vector</text>
<path d="M80.4 76.65H84.8 M96.2 76.65H100.6" stroke="#AE0F3A" stroke-width="1.5"/>
<path d="M90.5 72.65L94.5 76.65L90.5 80.65L86.5 76.65Z" fill="#fff" stroke="#AE0F3A" stroke-width="1.5"/>
<text x="105.5" y="79.8" font-family="Liberation Sans, sans-serif" font-size="10.6" textLength="82.5" lengthAdjust="spacingAndGlyphs" fill="#000" stroke="#000" stroke-width="0.18">FOXP3+<tspan font-family="Liberation Serif, serif" font-size="12.6" stroke-width="0">Δ</tspan>CD34</text>
<path d="M80.4 93.9H84.8 M96.2 93.9H100.6" stroke="#1F3F85" stroke-width="1.5"/>
<path d="M87 90.45L94 90.45L90.5 97.4Z" fill="#fff" stroke="#1F3F85" stroke-width="1.45" stroke-linejoin="miter"/>
<text x="105.5" y="97.05" font-family="Liberation Sans, sans-serif" font-size="10.6" textLength="77.5" lengthAdjust="spacingAndGlyphs" fill="#000" stroke="#000" stroke-width="0.18">FOXP3+Hel-FL</text>
<path d="M80.4 111.15H84.8 M96.2 111.15H100.6" stroke="#5AA533" stroke-width="1.5"/>
<rect x="86.6" y="107.25" width="7.8" height="7.8" fill="#fff" stroke="#5AA533" stroke-width="1.4"/>
<text x="105.5" y="114.3" font-family="Liberation Sans, sans-serif" font-size="10.6" textLength="86.5" lengthAdjust="spacingAndGlyphs" fill="#000" stroke="#000" stroke-width="0.18">FOXP3+Hel-<tspan font-family="Liberation Serif, serif" font-size="12.6" stroke-width="0">Δ</tspan>3B</text>
<path d="M80.4 128.4H100.6" stroke="#245E40" stroke-width="1.5"/>
<circle cx="90.5" cy="128.4" r="3.85" fill="none" stroke="#245E40" stroke-width="1.35"/>
<path d="M86.5 128.4H94.5" stroke="#245E40" stroke-width="1.5"/>
<text x="105.5" y="131.55" font-family="Liberation Sans, sans-serif" font-size="10.6" textLength="22.8" lengthAdjust="spacingAndGlyphs" fill="#000" stroke="#000" stroke-width="0.18">PBS</text>
<g stroke="#000" stroke-width="1.4" fill="none">
<path d="M71.6 406.3V695M71.6 695H507"/>
<path d="M67.2 695H71.6"/>
<path d="M67.2 564.3H71.6"/>
<path d="M67.2 433.6H71.6"/>
<path d="M71.5 695V699.4"/>
<path d="M157.8 695V699.4"/>
<path d="M244.1 695V699.4"/>
<path d="M330.4 695V699.4"/>
<path d="M416.7 695V699.4"/>
<path d="M503 695V699.4"/>
</g>
<g font-family="Liberation Sans, sans-serif" font-size="11" fill="#000" stroke="#000" stroke-width="0.15" text-anchor="end">
<text transform="translate(62.4 698.9) scale(1.14 1)">0</text>
<text transform="translate(62.4 568.2) scale(1.14 1)">50</text>
<text transform="translate(62.4 437.5) scale(1.14 1)">100</text>
</g>
<g font-family="Liberation Sans, sans-serif" font-size="11" fill="#000" stroke="#000" stroke-width="0.15" text-anchor="middle">
<text transform="translate(71.5 714) scale(1.14 1)">0</text>
<text transform="translate(157.8 714) scale(1.14 1)">10</text>
<text transform="translate(244.1 714) scale(1.14 1)">20</text>
<text transform="translate(330.4 714) scale(1.14 1)">30</text>
<text transform="translate(416.7 714) scale(1.14 1)">40</text>
<text transform="translate(503 714) scale(1.14 1)">50</text>
</g>
<text x="249.6" y="733" font-family="Liberation Sans, sans-serif" font-size="14.4" textLength="79.5" lengthAdjust="spacingAndGlyphs" fill="#000" stroke="#000" stroke-width="0.45">Days post injection</text>
<text transform="translate(34.3 583.9) rotate(-90)" x="0" y="0" font-family="Liberation Sans, sans-serif" font-size="14.4" textLength="67" lengthAdjust="spacingAndGlyphs" fill="#000" stroke="#000" stroke-width="0.45">Percent survival</text>
<polyline points="217.35,433.6 433.96,433.6" fill="none" stroke="#245E40" stroke-width="1.5"/>
<circle cx="433.96" cy="433.6" r="4" fill="#fff" stroke="#245E40" stroke-width="1.35"/>
<polyline points="214.76,433.6 226.84,433.6 226.84,470.94 235.47,470.94 235.47,508.29 269.99,508.29 269.99,545.63 321.77,545.63 321.77,620.31 330.4,620.31 330.4,657.66 364.92,657.66 364.92,695" fill="none" stroke="#5AA533" stroke-width="1.5" stroke-dasharray="4.5,3" stroke-dashoffset="0"/>
<rect x="223.16" y="467.27" width="7.35" height="7.35" fill="#fff" stroke="#5AA533" stroke-width="1.4"/>
<rect x="231.8" y="504.61" width="7.35" height="7.35" fill="#fff" stroke="#5AA533" stroke-width="1.4"/>
<rect x="266.31" y="541.95" width="7.35" height="7.35" fill="#fff" stroke="#5AA533" stroke-width="1.4"/>
<rect x="318.09" y="616.64" width="7.35" height="7.35" fill="#fff" stroke="#5AA533" stroke-width="1.4"/>
<rect x="326.73" y="653.98" width="7.35" height="7.35" fill="#fff" stroke="#5AA533" stroke-width="1.4"/>
<rect x="361.25" y="691.33" width="7.35" height="7.35" fill="#fff" stroke="#5AA533" stroke-width="1.4"/>
<polyline points="214.76,433.6 313.14,433.6 313.14,470.94 330.4,470.94 330.4,508.29 356.29,508.29 356.29,545.63 416.7,545.63 416.7,620.31 425.33,620.31 425.33,695" fill="none" stroke="#1F3F85" stroke-width="1.5" stroke-dasharray="4.5,3" stroke-dashoffset="3.75"/>
<path d="M309.81 467.67L316.46 467.67L313.14 474.27Z" fill="#fff" stroke="#1F3F85" stroke-width="1.45" stroke-linejoin="miter"/>
<path d="M327.08 505.01L333.73 505.01L330.4 511.61Z" fill="#fff" stroke="#1F3F85" stroke-width="1.45" stroke-linejoin="miter"/>
<path d="M352.97 542.35L359.62 542.35L356.29 548.95Z" fill="#fff" stroke="#1F3F85" stroke-width="1.45" stroke-linejoin="miter"/>
<path d="M413.38 617.04L420.03 617.04L416.7 623.64Z" fill="#fff" stroke="#1F3F85" stroke-width="1.45" stroke-linejoin="miter"/>
<path d="M422.01 691.72L428.66 691.72L425.33 698.33Z" fill="#fff" stroke="#1F3F85" stroke-width="1.45" stroke-linejoin="miter"/>
<polyline points="218.21,466.27 226.84,466.27 226.84,498.95 235.47,498.95 235.47,531.62 261.36,531.62 261.36,564.3 356.29,564.3 356.29,596.98 382.18,596.98 382.18,662.33 433.96,662.33" fill="none" stroke="#AE0F3A" stroke-width="1.5" stroke-dasharray="4.5,3" stroke-dashoffset="0"/>
<path d="M218.21 462.5L221.99 466.27L218.21 470.05L214.44 466.27Z" fill="#fff" stroke="#AE0F3A" stroke-width="1.5"/>
<path d="M226.84 495.18L230.62 498.95L226.84 502.73L223.06 498.95Z" fill="#fff" stroke="#AE0F3A" stroke-width="1.5"/>
<path d="M235.47 527.85L239.25 531.62L235.47 535.4L231.7 531.62Z" fill="#fff" stroke="#AE0F3A" stroke-width="1.5"/>
<path d="M261.36 560.52L265.13 564.3L261.36 568.07L257.59 564.3Z" fill="#fff" stroke="#AE0F3A" stroke-width="1.5"/>
<path d="M356.29 593.2L360.06 596.98L356.29 600.75L352.52 596.98Z" fill="#fff" stroke="#AE0F3A" stroke-width="1.5"/>
<path d="M382.18 658.55L385.95 662.33L382.18 666.1L378.41 662.33Z" fill="#fff" stroke="#AE0F3A" stroke-width="1.5"/>
<path d="M433.96 658.55L437.74 662.33L433.96 666.1L430.19 662.33Z" fill="#fff" stroke="#AE0F3A" stroke-width="1.5"/>
<polyline points="190.59,433.6 218.21,433.6 218.21,520.73 313.14,520.73 313.14,564.3 339.03,564.3 339.03,607.87 356.29,607.87 356.29,651.43 364.92,651.43 364.92,695" fill="none" stroke="#52226F" stroke-width="1.5"/>
<path d="M218.21 516.86L214.24 524.61L222.19 524.61Z" fill="#57276F" stroke="#42125A" stroke-width="0.8" stroke-linejoin="miter"/>
<path d="M313.14 560.42L309.17 568.17L317.11 568.17Z" fill="#57276F" stroke="#42125A" stroke-width="0.8" stroke-linejoin="miter"/>
<path d="M339.03 603.99L335.06 611.74L343 611.74Z" fill="#57276F" stroke="#42125A" stroke-width="0.8" stroke-linejoin="miter"/>
<path d="M356.29 647.56L352.32 655.31L360.26 655.31Z" fill="#57276F" stroke="#42125A" stroke-width="0.8" stroke-linejoin="miter"/>
<path d="M364.92 691.12L360.95 698.88L368.89 698.88Z" fill="#57276F" stroke="#42125A" stroke-width="0.8" stroke-linejoin="miter"/>
<polyline points="71.5,433.6 192.32,433.6 192.32,470.94 218.21,470.94 218.21,508.29 252.73,508.29 252.73,582.97 295.88,582.97 295.88,620.31 313.14,620.31 313.14,657.66 373.55,657.66 373.55,695" fill="none" stroke="#E28E18" stroke-width="1.5"/>
<circle cx="192.32" cy="470.94" r="3.61" fill="#E28E18" stroke="#D68000" stroke-width="0.6"/>
<circle cx="218.21" cy="508.29" r="3.61" fill="#E28E18" stroke="#D68000" stroke-width="0.6"/>
<circle cx="252.73" cy="582.97" r="3.61" fill="#E28E18" stroke="#D68000" stroke-width="0.6"/>
<circle cx="295.88" cy="620.31" r="3.61" fill="#E28E18" stroke="#D68000" stroke-width="0.6"/>
<circle cx="313.14" cy="657.66" r="3.61" fill="#E28E18" stroke="#D68000" stroke-width="0.6"/>
<circle cx="373.55" cy="695" r="3.61" fill="#E28E18" stroke="#D68000" stroke-width="0.6"/>
<polygon points="433.96,647.2 434.49,648.47 435.86,648.58 434.82,649.48 435.14,650.82 433.96,650.1 432.78,650.82 433.1,649.48 432.06,648.58 433.43,648.47" fill="#000"/>
<path d="M91 587.2H111.1" stroke="#E28E18" stroke-width="1.5"/>
<circle cx="101.1" cy="587.2" r="3.8" fill="#E28E18" stroke="#D68000" stroke-width="0.6"/>
<text x="116" y="590.6" font-family="Liberation Sans, sans-serif" font-size="10.6" textLength="49" lengthAdjust="spacingAndGlyphs" fill="#000" stroke="#000" stroke-width="0.18">no eTregs</text>
<path d="M91 604.5H111.1" stroke="#52226F" stroke-width="1.5"/>
<path d="M101.1 600.4L96.9 608.6L105.3 608.6Z" fill="#57276F" stroke="#42125A" stroke-width="0.8" stroke-linejoin="miter"/>
<text x="116" y="607.9" font-family="Liberation Sans, sans-serif" font-size="10.6" textLength="66.4" lengthAdjust="spacingAndGlyphs" fill="#000" stroke="#000" stroke-width="0.18">Empty Vector</text>
<path d="M91 621.8H95.4 M106.7 621.8H111.1" stroke="#AE0F3A" stroke-width="1.5"/>
<path d="M101.1 617.8L105.1 621.8L101.1 625.8L97.1 621.8Z" fill="#fff" stroke="#AE0F3A" stroke-width="1.5"/>
<text x="116" y="625.2" font-family="Liberation Sans, sans-serif" font-size="10.6" textLength="36.4" lengthAdjust="spacingAndGlyphs" fill="#000" stroke="#000" stroke-width="0.18">FOXP3</text>
<path d="M91 639.1H95.4 M106.7 639.1H111.1" stroke="#1F3F85" stroke-width="1.5"/>
<path d="M97.6 635.65L104.6 635.65L101.1 642.6Z" fill="#fff" stroke="#1F3F85" stroke-width="1.45" stroke-linejoin="miter"/>
<text x="116" y="642.5" font-family="Liberation Sans, sans-serif" font-size="10.6" textLength="77.3" lengthAdjust="spacingAndGlyphs" fill="#000" stroke="#000" stroke-width="0.18">FOXP3+Hel-FL</text>
<path d="M91 656.4H95.4 M106.7 656.4H111.1" stroke="#5AA533" stroke-width="1.5"/>
<rect x="97.2" y="652.5" width="7.79" height="7.79" fill="#fff" stroke="#5AA533" stroke-width="1.4"/>
<text x="116" y="659.8" font-family="Liberation Sans, sans-serif" font-size="10.6" textLength="87.4" lengthAdjust="spacingAndGlyphs" fill="#000" stroke="#000" stroke-width="0.18">FOXP3+Hel-<tspan font-family="Liberation Serif, serif" font-size="12.6" stroke-width="0">Δ</tspan>3B</text>
<path d="M91 673.7H111.1" stroke="#245E40" stroke-width="1.5"/>
<circle cx="101.1" cy="673.7" r="4" fill="#fff" stroke="#245E40" stroke-width="1.35"/>
<text x="116" y="677.1" font-family="Liberation Sans, sans-serif" font-size="10.6" textLength="23.4" lengthAdjust="spacingAndGlyphs" fill="#000" stroke="#000" stroke-width="0.18">PBS</text>
</svg>
</body></html>
